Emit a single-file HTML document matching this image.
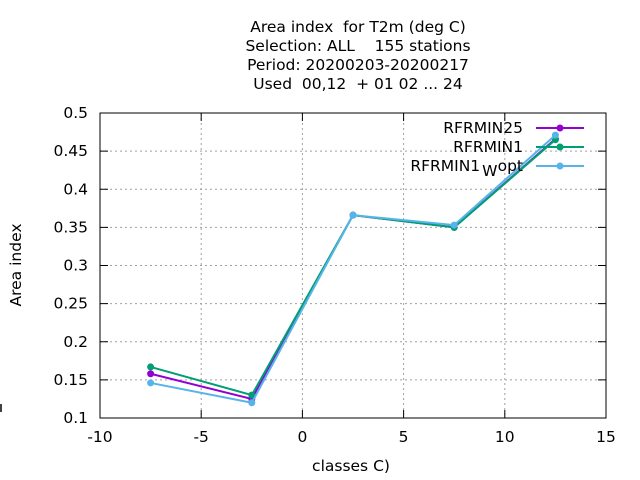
<!DOCTYPE html>
<html><head><meta charset="utf-8"><style>
html,body{margin:0;padding:0;background:#fff;}
svg{display:block;font-family:"DejaVu Sans","Liberation Sans",sans-serif;}
text{white-space:pre;}
</style></head><body>
<svg id="c" width="640" height="480" viewBox="0 0 640 480">
<g font-size="15.5" text-anchor="middle" fill="#000">
<text x="358" y="32" xml:space="preserve">Area index  for T2m (deg C)</text>
<text x="358" y="51" xml:space="preserve">Selection: ALL    155 stations</text>
<text x="358" y="70" xml:space="preserve">Period: 20200203-20200217</text>
<text x="358" y="89" xml:space="preserve">Used  00,12  + 01 02 ... 24</text>
</g>
<g id="grid"></g>
<g id="axes"></g>
<g id="series"></g>
<g id="legend"></g>
<text x="351" y="471" font-size="15.5" text-anchor="middle">classes C)</text>
<text transform="translate(21,265) rotate(-90)" font-size="15.5" text-anchor="middle">Area index</text>
<line x1="1" y1="404" x2="1" y2="412" stroke="#000" stroke-width="1.5"/>
</svg>
<script>
const categories = [-7.5, -2.5, 2.5, 7.5, 12.5];
const rfrmin25 = [0.158, 0.125, 0.366, 0.350, 0.466];
const rfrmin1 = [0.167, 0.130, 0.366, 0.350, 0.465];
const rfrmin1wopt = [0.146, 0.120, 0.366, 0.353, 0.471];
const xTicks = [-10, -5, 0, 5, 10, 15];
const yTicks = [0.1, 0.15, 0.2, 0.25, 0.3, 0.35, 0.4, 0.45, 0.5];
const seriesNames = ["RFRMIN25", "RFRMIN1", "RFRMIN1"];

const L=100,R=606,T=113,B=418;
const xs=v=>L+(v+10)/25*(R-L);
const ys=v=>B-(v-0.1)/0.4*(B-T);
const NS="http://www.w3.org/2000/svg";
function mk(tag,attrs,parent){const e=document.createElementNS(NS,tag);for(const k in attrs)e.setAttribute(k,attrs[k]);parent.appendChild(e);return e;}
const grid=document.getElementById('grid'),axes=document.getElementById('axes'),ser=document.getElementById('series'),leg=document.getElementById('legend');

xTicks.forEach(t=>{
  const x=xs(t);
  if(t>-10&&t<15){const g=mk('line',{x1:x,y1:T,x2:x,y2:B,stroke:'#a0a0a0','stroke-dasharray':'2,3','stroke-width':1},grid);
  }
  const tk=mk('line',{x1:x,y1:B,x2:x,y2:B-8,stroke:'#000'},axes);
  
  const tk2=mk('line',{x1:x,y1:T,x2:x,y2:T+8,stroke:'#000'},axes);
  
  const lb=mk('text',{x:x,y:B+24,'font-size':15.5,'text-anchor':'middle'},axes);lb.textContent=t;
  
});
yTicks.forEach(t=>{
  const y=ys(t);
  if(t>0.1&&t<0.5){const g=mk('line',{x1:L,y1:y,x2:R,y2:y,stroke:'#a0a0a0','stroke-dasharray':'2,3','stroke-width':1},grid);
  }
  const tk=mk('line',{x1:L,y1:y,x2:L+8,y2:y,stroke:'#000'},axes);
  
  const tk2=mk('line',{x1:R,y1:y,x2:R-8,y2:y,stroke:'#000'},axes);
  
  const lb=mk('text',{x:L-12,y:y+5,'font-size':15.5,'text-anchor':'end'},axes);lb.textContent=String(t);
  
});
const fr=mk('rect',{x:L,y:T,width:R-L,height:B-T,fill:'none',stroke:'#000','stroke-width':1},axes);


const defs=[[rfrmin25,'#9400d3','rfrmin25'],[rfrmin1,'#009e73','rfrmin1'],[rfrmin1wopt,'#56b4e9','rfrmin1-w-opt']];
defs.forEach(([vals,col,nm],i)=>{
  const pts=categories.map((c,j)=>xs(c)+','+ys(vals[j])).join(' ');
  const pl=mk('polyline',{points:pts,fill:'none',stroke:col,'stroke-width':2},ser);
  
  categories.forEach((c,j)=>{
    const p=mk('circle',{cx:xs(c),cy:ys(vals[j]),r:3.5,fill:col},ser);
    
  });
  const ly=128+i*19;
  const ll=mk('line',{x1:536,y1:ly,x2:584,y2:ly,stroke:col,'stroke-width':2},leg);
  
  const lp=mk('circle',{cx:560,cy:ly,r:3.5,fill:col},leg);
  
  const lt=mk('text',{x:523,y:ly+5,'font-size':15.5,'text-anchor':'end'},leg);
  lt.textContent=seriesNames[i];
  if(i===2){const s=mk('tspan',{dy:5,dx:2},lt);s.textContent='W';const s2=mk('tspan',{dy:-5,dx:1},lt);s2.textContent='opt';}
  
});
</script>
</body></html>
